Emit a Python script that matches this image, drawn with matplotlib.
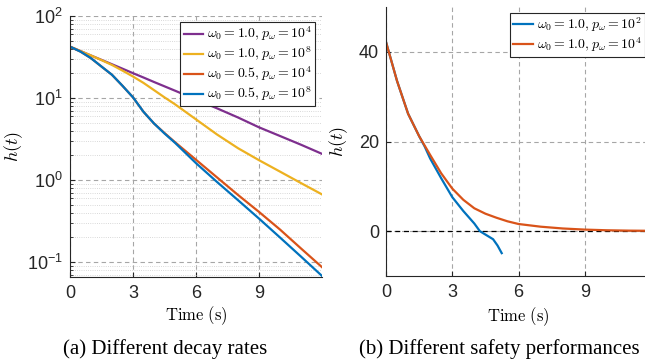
import matplotlib
matplotlib.use("Agg")
import matplotlib.pyplot as plt
from matplotlib.ticker import LogLocator, NullFormatter
import numpy as np

plt.rcParams['mathtext.fontset'] = 'cm'
plt.rcParams['mathtext.rm'] = 'Liberation Sans'
plt.rcParams['mathtext.it'] = 'Liberation Sans:italic'
plt.rcParams['mathtext.bf'] = 'Liberation Sans:bold'
plt.rcParams['font.family'] = ['Liberation Sans', 'DejaVu Sans']

# matlab default colours
C_BLUE = '#0072BD'
C_ORANGE = '#D95319'
C_YELLOW = '#EDB120'
C_PURPLE = '#7E2F8E'

# ---- (a) decay rates ----
t_a = [0, 0.5, 1, 1.5, 2, 2.5, 3, 3.5, 4, 4.5, 5, 6, 7, 8, 9, 10, 11, 12]
h_w10_p4 = [42.3, 37.4, 33.0, 29.2, 25.8, 22.8, 20.1, 17.8, 15.7, 13.9, 12.3,
            9.6, 7.5, 5.8, 4.4, 3.45, 2.7, 2.09]
h_w10_p8 = [42.3, 37.4, 33.0, 29.0, 25.3, 21.6, 18.3, 15.3, 12.5, 10.2, 8.4,
            5.5, 3.6, 2.45, 1.75, 1.27, 0.92, 0.67]
h_w05_p4 = [42.3, 36.8, 30.6, 24.2, 19.2, 14.1, 10.2, 6.8, 4.9, 3.75, 2.9,
            1.77, 1.08, 0.66, 0.41, 0.25, 0.147, 0.087]
h_w05_p8 = [42.3, 36.8, 30.6, 24.2, 19.2, 14.1, 10.2, 6.8, 4.9, 3.7, 2.85,
            1.61, 0.95, 0.57, 0.34, 0.20, 0.117, 0.068]
labels_a = [r'$\omega_0 = 1.0, p_\omega = 10^4$',
            r'$\omega_0 = 1.0, p_\omega = 10^8$',
            r'$\omega_0 = 0.5, p_\omega = 10^4$',
            r'$\omega_0 = 0.5, p_\omega = 10^8$']

# ---- (b) safety performance ----
t_b_p2 = [0, 0.5, 1, 1.5, 1.75, 2, 2.5, 3, 3.5, 4, 4.25, 4.55, 4.85, 5.05, 5.24]
h_b_p2 = [42.2, 33.5, 26.2, 21.2, 18.9, 16.2, 11.8, 7.6, 4.5, 1.7, 0.0,
          -0.9, -1.8, -3.2, -4.9]
t_b_p4 = [0, 0.5, 1, 1.5, 2, 2.5, 3, 3.5, 4, 4.5, 5, 5.5, 6, 7, 8, 9, 10, 11, 12]
h_b_p4 = [42.2, 33.5, 26.2, 21.2, 17.0, 12.9, 9.5, 7.0, 5.1, 3.9, 3.0, 2.2,
          1.6, 1.0, 0.6, 0.35, 0.2, 0.12, 0.08]
labels_b = [r'$\omega_0 = 1.0, p_\omega = 10^2$',
            r'$\omega_0 = 1.0, p_\omega = 10^4$']

TICK_FS = 13
LAB_FS = 12
LEG_FS = 10
GRID_KW = dict(color='#a6a6a6', linestyle=(0, (4, 3)), linewidth=0.8)


def style_axes(ax):
    for s in ['top', 'right']:
        ax.spines[s].set_visible(False)
    for s in ['left', 'bottom']:
        ax.spines[s].set_color('#262626')
        ax.spines[s].set_linewidth(0.8)
    ax.tick_params(which='both', direction='in', colors='#262626',
                   labelsize=TICK_FS)
    ax.tick_params(which='major', length=3.5)
    ax.tick_params(which='minor', length=2)
    ax.tick_params(axis='x', pad=6)
    ax.tick_params(axis='y', pad=5)
    ax.set_axisbelow(True)


def add_legend(ax, anchor):
    leg = ax.legend(loc='upper right', bbox_to_anchor=anchor, borderaxespad=0,
                    fontsize=LEG_FS, fancybox=False, framealpha=1,
                    edgecolor='#262626', handlelength=1.4, handletextpad=0.3,
                    labelspacing=0.1, borderpad=0.22)
    leg.get_frame().set_linewidth(0.8)
    for txt in leg.get_texts():
        txt.set_math_fontfamily('cm')
    return leg


fig = plt.figure(figsize=(6.45, 3.63), dpi=100)

# (a)
ax1 = fig.add_axes([70 / 645, 86 / 363, 252 / 645, 261 / 363])
style_axes(ax1)
ax1.set_yscale('log')
for h, c, lab in zip([h_w10_p4, h_w10_p8, h_w05_p4, h_w05_p8],
                     [C_PURPLE, C_YELLOW, C_ORANGE, C_BLUE], labels_a):
    ax1.plot(t_a, h, color=c, lw=1.6, label=lab)
ax1.set_xlim(0, 12)
ax1.set_ylim(0.066, 100)
ax1.set_xticks([0, 3, 6, 9])
ax1.set_yticks([0.1, 1, 10, 100])
ax1.set_yticklabels([r'$10^{-1}$', r'$10^{0}$', r'$10^{1}$', r'$10^{2}$'])
for lb in ax1.get_yticklabels():
    lb.set_math_fontfamily('custom')
ax1.yaxis.set_minor_locator(LogLocator(base=10, subs=np.arange(2, 10)))
ax1.yaxis.set_minor_formatter(NullFormatter())
ax1.grid(True, which='major', **GRID_KW)
ax1.grid(True, which='minor', axis='y', color='#cccccc', linestyle=':',
         linewidth=0.6)
ax1.set_xlabel(r'$\mathrm{Time\ (s)}$', fontsize=LAB_FS, math_fontfamily='cm')
ax1.set_ylabel(r'$h(t)$', fontsize=LAB_FS + 1, math_fontfamily='cm')
ax1.xaxis.set_label_coords(0.5, -0.105)
ax1.yaxis.set_label_coords(-0.18, 0.5)
ax1.xaxis.label.set_va('top')
add_legend(ax1, (0.972, 0.978))

# (b)
ax2 = fig.add_axes([386 / 645, 87 / 363, 265 / 645, 269 / 363])
style_axes(ax2)
ax2.plot(t_b_p2, h_b_p2, color=C_BLUE, lw=1.6, label=labels_b[0])
ax2.plot(t_b_p4, h_b_p4, color=C_ORANGE, lw=1.6, label=labels_b[1])
ax2.axhline(0, color='black', linestyle=(0, (4, 3)), linewidth=0.9, zorder=1.5)
ax2.set_xlim(0, 12)
ax2.set_ylim(-10, 50)
ax2.set_xticks([0, 3, 6, 9])
ax2.set_yticks([0, 20, 40])
ax2.grid(True, which='major', **GRID_KW)
ax2.set_xlabel(r'$\mathrm{Time\ (s)}$', fontsize=LAB_FS, math_fontfamily='cm')
ax2.set_ylabel(r'$h(t)$', fontsize=LAB_FS + 1, math_fontfamily='cm')
ax2.xaxis.set_label_coords(0.5, -0.108)
ax2.yaxis.set_label_coords(-0.136, 0.5)
ax2.xaxis.label.set_va('top')
add_legend(ax2, (0.977, 0.979))

# captions
fig.text(165 / 645, 9 / 363, '(a) Different decay rates', ha='center',
         va='baseline', fontsize=15, family='Liberation Serif')
fig.text(499 / 645, 9 / 363, '(b) Different safety performances',
         ha='center', va='baseline', fontsize=15, family='Liberation Serif')

fig.savefig('out.png', dpi=100)
